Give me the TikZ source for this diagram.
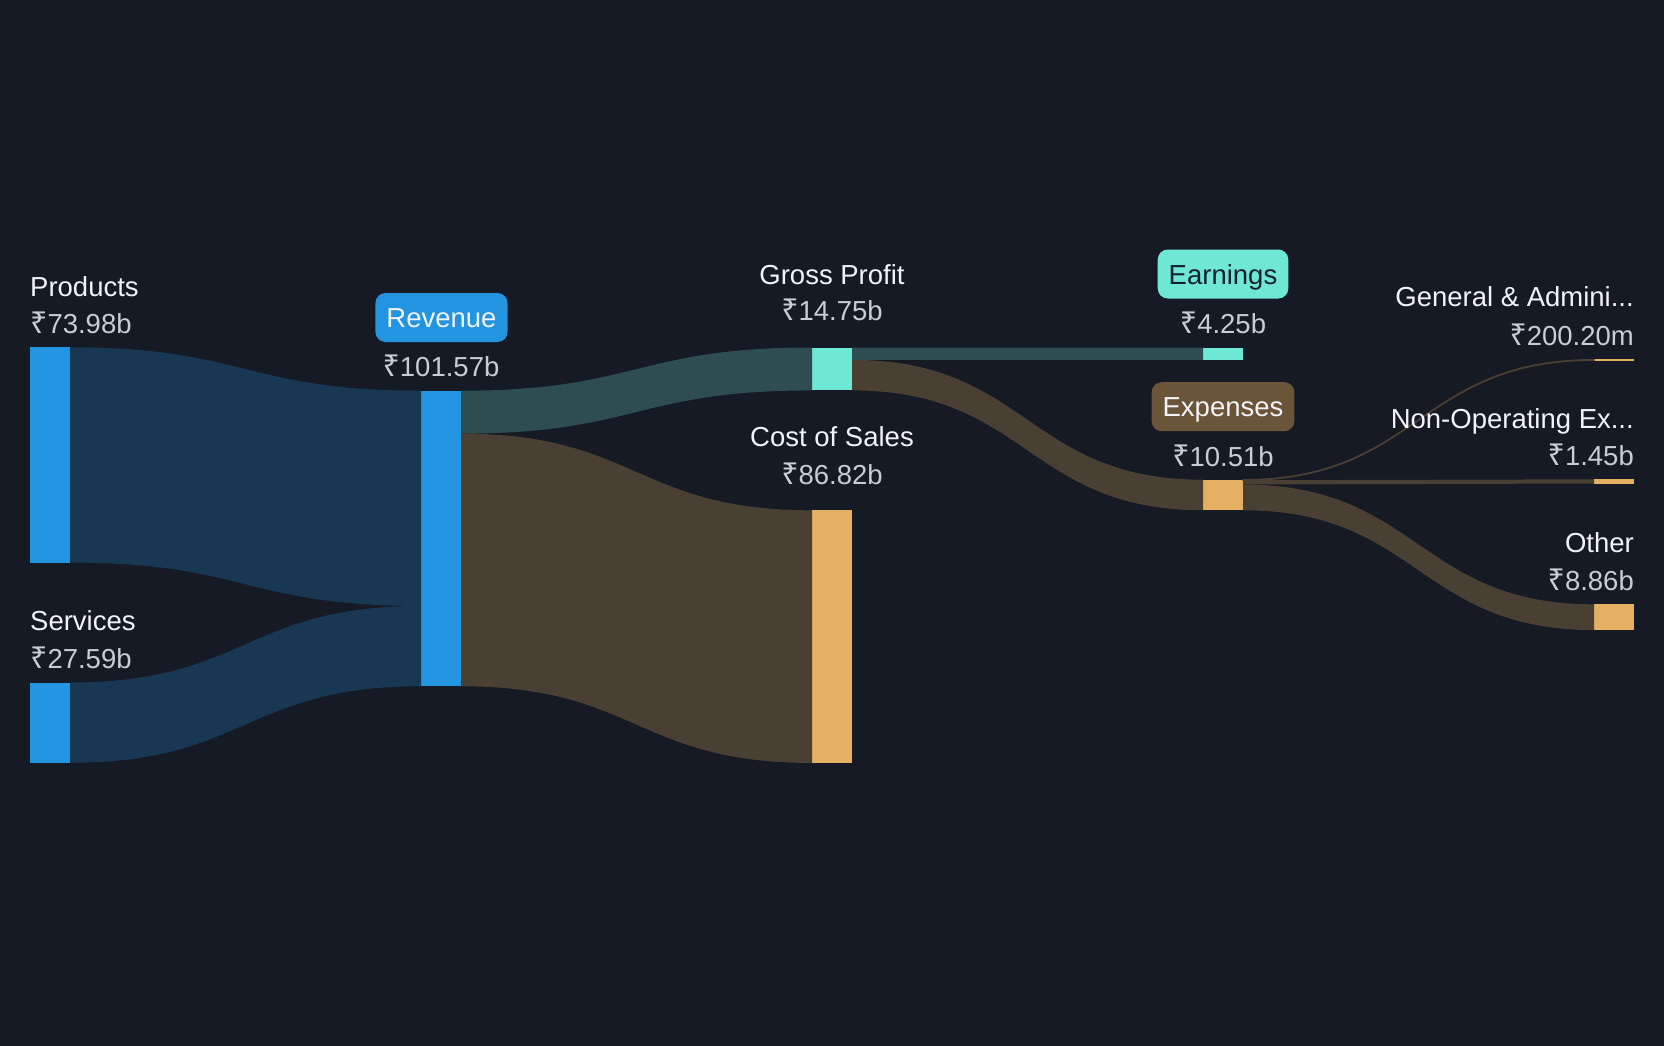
\documentclass[tikz,border=0pt]{standalone}
\usepackage{fontspec}
\setmainfont{Liberation Sans}
\newfontfamily\rup[Scale=1.1]{Noto Sans}
\usetikzlibrary{calc}
\definecolor{bgc}{HTML}{151A25}
\definecolor{bluec}{HTML}{2394E0}
\definecolor{blueflow}{HTML}{173752}
\definecolor{tealc}{HTML}{6EE8D4}
\definecolor{tealflow}{HTML}{2D4D50}
\definecolor{orangec}{HTML}{E5B062}
\definecolor{brownflow}{HTML}{4A3F33}
\definecolor{expbadge}{HTML}{6B5539}
\definecolor{labtext}{HTML}{F0F3F7}
\definecolor{valtext}{HTML}{C8CDD4}
\definecolor{darktext}{HTML}{15202B}
\newcommand\Rs{{\rup ₹}}
% #1 src node, #2 src offset, #3 tgt node, #4 tgt offset, #5 thickness, #6 style
\newcommand\sflow[6]{%
  \coordinate (s1) at ([yshift=-#2pt]#1.north east);
  \coordinate (s2) at ([yshift=-#2pt-#5pt]#1.north east);
  \coordinate (t1) at ([yshift=-#4pt]#3.north west);
  \coordinate (t2) at ([yshift=-#4pt-#5pt]#3.north west);
  \coordinate (m) at ($(s1)!.5!(t1)$);
  \path[#6] (s1) .. controls (m |- s1) and (m |- t1) .. (t1) -- (t2)
     .. controls (m |- t2) and (m |- s2) .. (s2) -- cycle;
}
\tikzset{
  bar/.style={fill=#1, draw=none, inner sep=0pt, outer sep=0pt, minimum width=40pt, anchor=north west},
  lab/.style={inner sep=0pt, text=labtext, font=\fontsize{27.5}{33}\selectfont},
  val/.style={inner sep=0pt, text=valtext, font=\fontsize{27.5}{33}\selectfont},
  badge/.style={rounded corners=10pt, fill=#1, inner xsep=11pt, inner ysep=0pt,
     minimum height=49pt, text height=20pt, text depth=0pt, anchor=center,
     font=\fontsize{27.5}{33}\selectfont},
}
\begin{document}
\begin{tikzpicture}[x=1pt,y=-1pt]
\fill[bgc] (0,0) rectangle (1664,1046);
\useasboundingbox (0,0) rectangle (1664,1046);
% bars
\node[bar=bluec, minimum height=215.28pt] (prod) at (30,347.3) {};
\node[bar=bluec, minimum height=80.29pt] (serv) at (30,682.5) {};
\node[bar=bluec, minimum height=295.57pt] (rev) at (421,390.7) {};
\node[bar=tealc, minimum height=42.92pt] (gp) at (812,347.5) {};
\node[bar=orangec, minimum height=252.65pt] (cos) at (812,510.3) {};
\node[bar=tealc, minimum height=12.37pt] (earn) at (1203,347.5) {};
\node[bar=orangec, minimum height=30.58pt] (exp) at (1203,479.7) {};
\node[bar=orangec, minimum height=2pt] (ga) at (1594,359) {};
\node[bar=orangec, minimum height=4.22pt] (nonop) at (1594,479.3) {};
\node[bar=orangec, minimum height=25.78pt] (other) at (1594,604.3) {};
% flows
\sflow{prod}{0}{rev}{0}{215.28}{fill=blueflow}
\sflow{serv}{0}{rev}{215.28}{80.29}{fill=blueflow}
\sflow{rev}{0}{gp}{0}{42.92}{fill=tealflow}
\sflow{rev}{42.92}{cos}{0}{252.65}{fill=brownflow}
\sflow{gp}{0}{earn}{0}{12.37}{fill=tealflow}
\sflow{gp}{12.37}{exp}{0}{30.55}{fill=brownflow}
\sflow{exp}{0}{ga}{0.7}{0.58}{fill=brownflow, draw=brownflow, line width=1.3pt}
\sflow{exp}{0.58}{nonop}{0}{4.22}{fill=brownflow}
\sflow{exp}{4.8}{other}{0}{25.78}{fill=brownflow}
% labels
\node[lab, anchor=base west] (lprod) at (30,296.8) {Products};
\node[val, anchor=base west] (vprod) at (30,333) {\Rs73.98b};
\node[lab, anchor=base west] (lserv) at (30,630.8) {Services};
\node[val, anchor=base west] (vserv) at (30,668.7) {\Rs27.59b};
\node[badge=bluec, text=labtext] (lrev) at (441.5,317.5) {Revenue};
\node[val, anchor=base] (vrev) at (441,376.7) {\Rs101.57b};
\node[lab, anchor=base] (lgp) at (832,284) {Gross Profit};
\node[val, anchor=base] (vgp) at (832,320.7) {\Rs14.75b};
\node[lab, anchor=base] (lcos) at (832,446.7) {Cost of Sales};
\node[val, anchor=base] (vcos) at (832,484) {\Rs86.82b};
\node[badge=tealc, text=darktext] (learn) at (1223,274) {Earnings};
\node[val, anchor=base] (vearn) at (1223,333.3) {\Rs4.25b};
\node[badge=expbadge, text=labtext] (lexp) at (1223,406.7) {Expenses};
\node[val, anchor=base] (vexp) at (1223,466) {\Rs10.51b};
\node[lab, anchor=base east] (lga) at (1634,306.7) {General \& Admini...};
\node[val, anchor=base east] (vga) at (1634,345) {\Rs200.20m};
\node[lab, anchor=base east] (lnon) at (1634,428.3) {Non-Operating Ex...};
\node[val, anchor=base east] (vnon) at (1634,465) {\Rs1.45b};
\node[lab, anchor=base east] (loth) at (1634,552.7) {Other};
\node[val, anchor=base east] (voth) at (1634,590) {\Rs8.86b};
\end{tikzpicture}
\end{document}
